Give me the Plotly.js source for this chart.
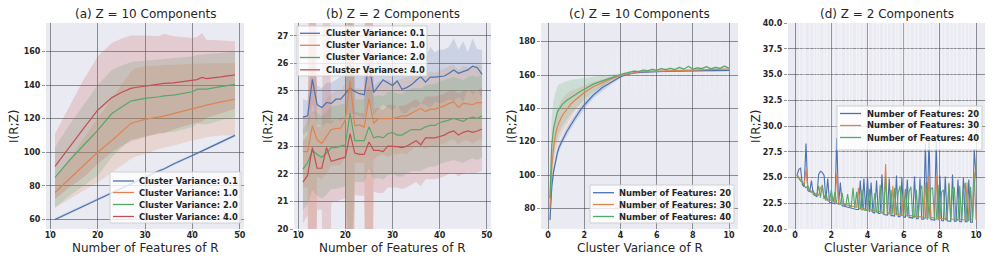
<!DOCTYPE html>
<html>
<head>
<meta charset="utf-8">
<script src="https://cdn.plot.ly/plotly-3.0.1.min.js"></script>
<style>html,body{margin:0;padding:0;background:#fff;}#chart{width:997px;height:266px;}</style>
</head>
<body>
<div id="chart"></div>
<script>
// ---------------- DATA ----------------
// Panel (a): Z = 10 components, x = number of features of R
const aX = [11,14,17,20,23,25,27,28,30,33,34,36,40,41,42,43,46,49];
const aBlue = [60,64,68,72,76,78.5,81,82.5,85,89,90,93,98,99.5,101,102,106,110];
const aBlueUp = [60.8,64.8,68.8,72.8,76.8,79.3,81.8,83.3,85.8,89.8,90.8,93.8,98.8,100.3,101.8,102.8,106.8,110.8];
const aBlueLo = [59.2,63.2,67.2,71.2,75.2,77.7,80.2,81.7,84.2,88.2,89.2,92.2,97.2,98.7,100.2,101.2,105.2,109.2];
const aOrange = [76,84,92,100,107,112,117,118,119.5,121,121.5,123,126,126.5,127.5,128,130,131.5];
const aOrangeUp = [85,96,108,120,132,140,148,150,151,151.5,152,152,152.5,152.5,153,153,153,153];
const aOrangeLo = [67,72,77,82,88,92,96,97.5,99,102,102.5,104,107,107.5,108,109,110,110];
const aGreen = [85,95,104,113,123,127,130.5,131,132,133,133.5,134,136,137.5,137.3,137.5,139,140.4];
const aGreenUp = [103,116,128,140,149,151.5,153.5,154,154.5,155,155.5,156,157,158,158,158.5,159,160];
const aGreenLo = [67,74,80,86,97,102.5,107.5,108,109.5,111,111.5,112,115,117,116.6,116.5,119,121];
const aRed = [91.6,103,114,125,132.5,135.5,138,138.5,139.3,140.2,141,141.3,142.6,143.2,144.5,143.8,144.8,146];
const aRedUp = [111,127,143,157,165,167.5,169.5,169.5,169.5,169,170.5,169,168,168.5,171,167,166.5,166];
const aRedLo = [72,79,85,93,100,103.5,106.5,107.5,109,111.5,111.5,113.5,117,117.5,118,120.5,123,126];

// Panel (b): Z = 2 components
const bX = [11,12,13,14,15,16,17,18,19,20,21,22,23,24,25,26,27,28,29,30,31,32,33,34,35,36,37,38,39,40,41,42,43,44,45,46,47,48,49];
const bBlue = [24.05,24.1,25.42,24.5,24.4,24.58,24.55,24.7,24.7,24.9,25.1,24.98,24.9,24.86,26.0,24.95,25.18,25.4,25.3,25.2,25.36,25.06,25.12,25.22,25.38,25.52,25.32,25.5,25.5,25.52,25.54,25.64,25.76,25.64,25.7,25.76,25.9,25.84,25.6];
const bBlueUp = [24.7,24.65,26.3,25.2,25.1,25.3,25.3,25.4,25.5,25.7,26.0,25.8,25.7,25.7,27.2,25.8,26.0,26.3,26.0,26.0,26.2,25.9,26.1,26.1,26.4,26.5,26.2,26.6,26.4,26.5,26.5,26.6,26.9,26.5,26.8,26.4,26.9,26.5,26.5];
const bBlueLo = [23.4,23.55,24.5,23.8,23.7,23.85,23.8,24.0,23.9,24.1,24.2,24.15,24.1,24.0,24.8,24.1,24.35,24.5,24.4,24.3,24.5,24.2,24.2,24.4,24.4,24.55,24.5,24.4,24.6,24.55,24.6,24.7,24.6,24.8,24.6,25.1,24.85,25.1,24.7];
const bOrange = [22.8,22.8,23.74,23.23,23.1,23.35,23.6,23.64,23.65,23.95,25.37,23.74,23.77,23.69,24.73,23.83,24.0,24.0,24.0,24.0,24.04,24.1,24.1,24.2,24.3,24.37,24.25,24.34,24.34,24.4,24.46,24.55,24.6,24.4,24.55,24.53,24.5,24.58,24.58];
const bOrangeUp = [24.1,24.1,40,24.6,24.4,24.7,24.9,25.0,25.0,25.3,45,25.1,25.1,25.0,45,25.2,25.35,25.35,25.4,25.3,25.4,25.45,25.5,25.55,25.6,25.7,25.6,25.7,25.65,25.75,25.8,25.9,25.95,25.75,25.9,25.85,25.9,25.95,25.9];
const bOrangeLo = [21.5,21.5,5,21.9,21.8,22.0,22.3,22.3,22.3,22.6,5,22.4,22.4,22.4,5,22.5,22.65,22.7,22.6,22.7,22.7,22.75,22.7,22.85,23.0,23.0,22.9,23.0,23.0,23.05,23.1,23.2,23.25,23.05,23.2,23.2,23.1,23.2,23.25];
const bGreen = [22.17,22.4,22.85,22.7,22.6,22.75,22.95,22.95,23.0,23.05,24.2,23.2,23.2,23.2,23.7,23.3,23.35,23.3,23.45,23.5,23.4,23.4,23.5,23.6,23.6,23.6,23.7,23.75,23.75,23.85,23.9,23.95,24.0,23.95,23.9,24.0,24.05,24.0,24.1];
const bGreenUp = [23.6,23.9,24.3,24.2,24.1,24.25,24.45,24.45,24.5,24.55,30,24.7,24.7,24.7,25.2,24.8,24.85,24.8,24.95,25.0,24.9,24.9,25.0,25.1,25.1,25.1,25.2,25.25,25.25,25.35,25.4,25.45,25.5,25.45,25.4,25.5,25.55,25.5,25.6];
const bGreenLo = [20.7,20.9,21.4,21.2,21.1,21.25,21.45,21.45,21.5,21.55,18,21.7,21.7,21.7,22.2,21.8,21.85,21.8,21.95,22.0,21.9,21.9,22.0,22.1,22.1,22.1,22.2,22.25,22.25,22.35,22.4,22.45,22.5,22.45,22.4,22.5,22.55,22.5,22.6];
const bRed = [21.7,21.95,22.95,22.2,22.2,22.95,22.45,22.5,22.55,22.6,23.45,22.75,22.7,22.7,23.15,22.85,22.85,22.8,23.0,23.0,22.98,22.95,23.0,23.1,23.2,23.05,23.3,23.3,23.3,23.35,23.4,23.5,23.55,23.4,23.5,23.55,23.5,23.55,23.62];
const bRedUp = [23.2,23.4,45,23.7,23.7,40,23.9,24.0,24.0,24.1,45,24.25,24.2,24.2,45,24.35,24.4,24.3,24.5,24.5,24.45,24.45,24.5,24.6,24.7,24.55,24.8,24.8,24.8,24.85,24.9,25.0,25.05,24.9,25.0,25.05,25.0,25.05,25.1];
const bRedLo = [20.2,20.5,5,20.7,20.7,5,20.95,21.0,21.05,21.1,5,21.25,21.2,21.2,5,21.35,21.3,21.3,21.5,21.5,21.5,21.45,21.5,21.6,21.7,21.55,21.8,21.8,21.8,21.85,21.9,22.0,22.05,21.9,22.0,22.05,22.0,22.05,22.1];

// Panel (c): Z = 10 components, x = cluster variance of R
const cX = [0.1,0.15,0.2,0.3,0.4,0.5,0.6,0.8,1.0,1.25,1.5,1.75,2.0,2.5,3.0,3.5,4.0,4.25,4.5,4.75,5.0,5.25,5.5,5.75,6.0,6.25,6.5,6.75,7.0,7.25,7.5,7.75,8.0,8.25,8.5,8.75,9.0,9.25,9.5,9.75,10.0];
const c20 = [73,85,93,102,108,113,116.5,121.5,125.5,130,134.5,138.5,142,148,152.5,156,159,160,160.8,161.2,161.5,161.7,161.8,161.9,162,162.1,162.1,162.2,162.3,162.3,162.4,162.4,162.5,162.5,162.5,162.6,162.6,162.6,162.7,162.7,162.7];
const c20Up = [76,88,96,104.5,110.5,115.5,119,124,128,132.5,137,141,144.5,150,154.5,157.5,160,160.8,161.4,161.7,162,162.1,162.2,162.3,162.4,162.5,162.5,162.6,162.7,162.7,162.8,162.8,162.9,162.9,162.9,163,163,163,163.1,163.1,163.1];
const c20Lo = [70,82,90,99.5,105.5,110.5,114,119,123,127.5,132,136,139.5,146,150.5,154.5,158,159.2,160.2,160.7,161,161.3,161.4,161.5,161.6,161.7,161.7,161.8,161.9,161.9,162,162,162.1,162.1,162.1,162.2,162.2,162.2,162.3,162.3,162.3];
const c30 = [80,95,105,116,124,128.5,131.5,136,139,142.5,145,147.5,149.5,153,155.5,157.8,159.7,160.3,160.8,161.3,161.8,162,162.1,162.3,162.3,162.5,162.6,162.7,162.7,162.9,163,163,163,163.2,163.3,163.2,163.3,163.4,163.4,163.5,163.5];
const c30Up = [88,108,115,126,134,139,142,146,148.5,150.5,151.5,152.7,154,156,157.5,159,160.5,160.9,161.3,161.8,162.2,162.4,162.5,162.7,162.7,162.9,163,163.1,163.1,163.3,163.4,163.4,163.4,163.6,163.7,163.6,163.7,163.8,163.8,163.9,163.9];
const c30Lo = [72,82,95,106,114,118,121,126,129.5,134,138.5,142,145,150,153.5,156.6,158.9,159.7,160.3,160.8,161.4,161.6,161.7,161.9,161.9,162.1,162.2,162.3,162.3,162.5,162.6,162.6,162.6,162.8,162.9,162.8,162.9,163,163,163.1,163.1];
const c40 = [86,105,118,128,134,137.5,139.5,142.5,144.5,146.5,148.5,150,151.5,154.5,156.5,158.5,160.3,161,161.5,162.3,162,163,162.5,163.4,162.8,163.8,163.2,164,163.3,164.5,163.5,165.2,163.6,164.3,163.8,165,163.7,164.6,164,165.3,164];
const c40Up = [100,125,135,145,150,153,154.5,155.5,156.3,157,157.5,157.9,158.2,159,159.6,160.2,161,161.6,162,162.8,162.6,163.6,163.1,164,163.4,164.4,163.8,164.6,163.9,165.1,164.1,165.8,164.2,164.9,164.4,165.6,164.3,165.2,164.6,165.9,164.6];
const c40Lo = [75,88,100,112,118,122,125,129.5,133,136.5,139.5,142.5,145,150,153.5,156.8,159.6,160.4,161,161.8,161.4,162.4,161.9,162.8,162.2,163.2,162.6,163.4,162.7,163.9,162.9,164.6,163,163.7,163.2,164.4,163.1,164,163.4,164.7,163.4];
// faint high-variance streaks in (c)
const cStreakX = [3.2,3.5,3.8,4.1,4.3,4.6,4.8,5.1,5.3,5.6,5.9,6.1,6.4,6.6,6.9,7.1,7.4,7.6,7.9,8.2,8.4,8.7,8.9,9.2,9.5,9.7,9.9];
const cStreakHi = [168,172,175,170,177,173,178,171,176,174,178,172,177,175,170,178,176,173,178,177,171,176,178,174,177,175,178];
const cStreakLo = [154,152,150,156,151,153,149,155,150,152,148,154,151,150,155,149,152,150,148,153,151,149,150,152,148,151,150];

// Panel (d): Z = 2 components, x = cluster variance of R
const dX = [0.1,0.2,0.3,0.4,0.5,0.6,0.7,0.8,0.9,1.0,1.1,1.2,1.3,1.4,1.5,1.6,1.7,1.8,1.9,2.0,2.1,2.2,2.3,2.4,2.5,2.6,2.7,2.8,2.9,3.0,3.1,3.2,3.3,3.4,3.5,3.6,3.7,3.8,3.9,4.0,4.1,4.2,4.3,4.4,4.5,4.6,4.7,4.8,4.9,5.0,5.1,5.2,5.3,5.4,5.5,5.6,5.7,5.8,5.9,6.0,6.1,6.2,6.3,6.4,6.5,6.6,6.7,6.8,6.9,7.0,7.1,7.2,7.3,7.4,7.5,7.6,7.7,7.8,7.9,8.0,8.1,8.2,8.3,8.4,8.5,8.6,8.7,8.8,8.9,9.0,9.1,9.2,9.3,9.4,9.5,9.6,9.7,9.8,9.9,10.0];
const d20 = [25.15,25.8,25.9,24.3,24.1,28.3,23.75,23.6,24.7,23.35,
 23.25,23.15,25.3,25.6,25.5,25.2,22.75,24.9,22.6,22.55,
 22.5,22.45,28.8,22.35,24.5,22.25,22.2,22.15,22.1,22.1,
 22.05,22.0,21.95,21.9,21.9,24.7,21.8,24.9,21.75,25.0,
 21.65,24.5,21.6,21.55,24.7,21.5,21.5,25.3,21.4,21.4,
 21.35,24.9,21.3,21.3,21.25,25.2,21.2,21.2,25.0,21.15,
 21.15,24.8,21.1,21.1,21.05,25.1,21.0,21.0,24.9,20.95,
 20.95,28.3,20.9,29.0,20.9,20.9,20.85,28.5,20.85,25.2,
 20.8,20.8,25.1,20.8,20.8,20.75,25.3,20.75,20.75,24.8,
 20.7,20.7,25.0,20.7,20.7,24.8,20.65,20.65,27.8,25.0];
const d30 = [25.3,25.0,24.75,24.5,24.3,25.8,23.95,23.8,23.65,23.55,
 23.45,23.35,23.25,24.0,24.2,23.0,22.95,22.85,22.8,22.75,
 22.7,22.65,25.4,22.55,22.5,22.45,22.4,22.35,22.3,22.3,
 22.25,22.2,22.15,22.1,24.0,22.05,22.0,21.95,21.95,21.9,
 21.85,21.85,21.8,21.75,21.75,21.7,21.7,21.65,21.6,26.3,
 21.55,21.55,21.5,24.2,21.45,21.45,21.4,21.4,21.4,23.8,
 21.35,21.3,21.3,21.3,21.25,21.25,21.2,21.2,21.2,21.15,
 21.15,24.5,21.1,25.3,21.1,21.1,21.05,25.2,21.05,21.05,
 21.0,21.0,21.0,21.0,24.5,20.95,20.95,20.95,20.95,20.95,
 20.9,20.9,20.9,20.9,24.5,20.9,20.9,20.9,25.5,20.9];
const d40 = [25.2,24.9,24.65,24.6,24.2,24.0,24.2,23.7,23.55,23.7,
 23.35,23.25,24.2,23.05,24.3,22.9,23.5,22.75,22.7,23.8,
 22.6,23.6,22.5,22.45,22.4,23.5,22.3,22.25,23.4,22.2,
 22.15,24.0,22.05,23.6,22.0,21.95,23.8,21.85,21.85,21.8,
 23.9,21.75,21.7,23.5,21.65,21.6,24.3,21.55,21.5,25.1,
 21.45,21.45,23.8,21.4,24.0,21.35,23.5,24.2,21.3,21.25,
 23.9,21.2,23.6,24.1,21.15,21.15,23.8,21.1,23.7,24.2,
 21.05,21.05,24.5,21.0,23.9,24.0,20.95,20.95,24.3,20.95,
 23.6,23.8,20.9,20.9,24.4,20.85,23.9,24.0,20.85,20.85,
 24.2,20.8,23.7,24.5,20.8,20.8,24.1,20.8,24.0,26.3];
// high-variance streaks in (d)
const dStreakX = [0.25,0.45,0.55,0.8,1.05,1.2,1.35,1.6,1.75,1.95,2.15,2.4,2.55,2.8,3.0,3.15,3.4,3.55,3.8,4.05,4.3,4.5,4.65,4.9,5.1,5.3,5.55,5.7,5.95,6.15,6.35,6.6,6.8,7.05,7.25,7.45,7.65,7.9,8.1,8.3,8.55,8.75,8.95,9.2,9.4,9.6,9.8,9.95];
const dStreakHi = [45,50,42,48,55,44,47,52,43,49,46,51,44,53,47,42,50,45,48,54,43,46,52,44,49,47,51,42,48,45,53,44,50,46,43,52,47,49,45,51,44,48,42,53,46,50,45,47];
const dStreakLo = [15,12,18,14,10,16,13,11,17,15,12,14,16,10,13,18,11,15,14,12,17,13,10,16,14,12,15,18,11,13,16,14,10,12,17,15,13,11,16,14,12,18,15,10,13,17,14,12];

// Labels
const varNames = ['Cluster Variance: 0.1','Cluster Variance: 1.0','Cluster Variance: 2.0','Cluster Variance: 4.0'];
const featNames = ['Number of Features: 20','Number of Features: 30','Number of Features: 40'];
const titles = ['(a) Z = 10 Components','(b) Z = 2 Components','(c) Z = 10 Components','(d) Z = 2 Components'];
const xTitles = ['Number of Features of R','Number of Features of R','Cluster Variance of R','Cluster Variance of R'];
const yTitle = 'I(R;Z)';
const aYTicks = [60,80,100,120,140,160];
const bYTicks = [20,21,22,23,24,25,26,27];
const cYTicks = [80,100,120,140,160,180];
const dYTicks = [20,22.5,25,27.5,30,32.5,35,37.5,40];
const nTicks = [10,20,30,40,50];
const vTicks = [0,2,4,6,8,10];

// ---------------- STYLE / LAYOUT ----------------
const W = 997, H = 266;
const COLORS = ['#4C72B0','#DD8452','#55A868','#C44E52'];
const FILLS = ['rgba(76,114,176,0.2)','rgba(221,132,82,0.2)','rgba(85,168,104,0.2)','rgba(196,78,82,0.2)'];
const TXT = '#262626';
const px = x => x / W;
const py = y => 1 - y / H;
const yDom = [py(229), py(23)];
const xDoms = [[46,244],[294,491],[541,738],[788,985]];
const yTitleX = [14, 268, 512, 756];

function ax(k, p) { return p + (k > 1 ? k : ''); }
function band(xs, up, lo, fill, k) {
  return {x: xs.concat(xs.slice().reverse()), y: up.concat(lo.slice().reverse()),
    type:'scatter', mode:'lines', fill:'toself', fillcolor: fill, line:{width:0},
    hoverinfo:'skip', showlegend:false, xaxis:ax(k,'x'), yaxis:ax(k,'y')};
}
function line(xs, ys, color, k, w) {
  return {x: xs, y: ys, type:'scatter', mode:'lines', line:{color: color, width: w||1.2},
    showlegend:false, xaxis:ax(k,'x'), yaxis:ax(k,'y')};
}
function streaks(xs, lo, hi, color, w, k) {
  const X = [], Y = [];
  xs.forEach((v,i) => { X.push(v, v, null); Y.push(lo[i], hi[i], null); });
  return {x: X, y: Y, type:'scatter', mode:'lines', line:{color: color, width: w},
    hoverinfo:'skip', showlegend:false, connectgaps:false, xaxis:ax(k,'x'), yaxis:ax(k,'y')};
}

const traces = [];
// (a)
[[aBlueUp,aBlueLo],[aOrangeUp,aOrangeLo],[aGreenUp,aGreenLo],[aRedUp,aRedLo]].forEach((b,i)=>traces.push(band(aX,b[0],b[1],FILLS[i],1)));
[aBlue,aOrange,aGreen,aRed].forEach((s,i)=>traces.push(line(aX,s,COLORS[i],1)));
// (b)
[[bBlueUp,bBlueLo],[bOrangeUp,bOrangeLo],[bGreenUp,bGreenLo],[bRedUp,bRedLo]].forEach((b,i)=>traces.push(band(bX,b[0],b[1],FILLS[i],2)));
[bBlue,bOrange,bGreen,bRed].forEach((s,i)=>traces.push(line(bX,s,COLORS[i],2)));
// (c)
traces.push(streaks(cStreakX,cStreakLo,cStreakHi,'rgba(255,255,255,0.22)',1,3));
[[c20Up,c20Lo],[c30Up,c30Lo],[c40Up,c40Lo]].forEach((b,i)=>traces.push(band(cX,b[0],b[1],FILLS[i],3)));
[c20,c30,c40].forEach((s,i)=>traces.push(line(cX,s,COLORS[i],3)));
// (d)
traces.push(streaks(dStreakX,dStreakLo,dStreakHi,'rgba(255,255,255,0.4)',1.5,4));
[d20,d30,d40].forEach((s,i)=>traces.push(line(dX,s,COLORS[i],4,1.1)));

const tickFont = {family:'DejaVu Sans', size:8, weight:'bold', color:TXT};
const titleFont = {family:'DejaVu Sans', size:12, color:TXT};
const GRID = 'rgba(60,60,70,0.55)';
function xax(k, range, tv) {
  return {domain:[px(xDoms[k][0]), px(xDoms[k][1])], range: range, tickvals: tv, anchor:'y'+(k?k+1:''),
    showgrid:true, gridcolor:GRID, gridwidth:1, zeroline:false, showline:false,
    ticks:'outside', ticklen:2, tickcolor:GRID, tickfont: tickFont, ticklabelstandoff:-4};
}
function yax(k, range, tv, fmt) {
  return {domain: yDom, range: range, tickvals: tv, anchor:'x'+(k?k+1:''), tickformat: fmt||'',
    showgrid:true, gridcolor:GRID, gridwidth:1, zeroline:false, showline:false,
    ticks:'outside', ticklen:3, tickcolor:GRID, tickfont: tickFont};
}

const shapes = [], annotations = [];
titles.forEach((t,k)=>{
  const cx = px((xDoms[k][0]+xDoms[k][1])/2);
  annotations.push({xref:'paper', yref:'paper', x: cx, y: py(14),
    xanchor:'center', yanchor:'middle', showarrow:false, text:t, font:titleFont});
  annotations.push({xref:'paper', yref:'paper', x: cx, y: py(248),
    xanchor:'center', yanchor:'middle', showarrow:false, text:xTitles[k], font:titleFont});
  annotations.push({xref:'paper', yref:'paper', x: px(yTitleX[k]), y: py(126), textangle:-90,
    xanchor:'center', yanchor:'middle', showarrow:false, text:yTitle, font:titleFont});
});
// legends: box [x0,y0,x1,y1], line x-range, text x, row y's
function legend(box, lx0, lx1, tx, rows, names, colors) {
  shapes.push({type:'rect', xref:'paper', yref:'paper', x0:px(box[0]), x1:px(box[2]), y0:py(box[3]), y1:py(box[1]),
    fillcolor:'rgba(255,255,255,0.8)', line:{color:'rgba(204,204,204,0.9)', width:1}, layer:'above'});
  rows.forEach((ry,i)=>{
    shapes.push({type:'line', xref:'paper', yref:'paper', x0:px(lx0), x1:px(lx1), y0:py(ry), y1:py(ry),
      line:{color:colors[i], width:1.3}, layer:'above'});
    annotations.push({xref:'paper', yref:'paper', x:px(tx), y:py(ry), xanchor:'left', yanchor:'middle',
      showarrow:false, text:names[i], font:{family:'DejaVu Sans', size:8.4, weight:'bold', color:TXT}});
  });
}
legend([110,172,241,223], 113, 134, 137, [181,192.5,204.5,216.5], varNames, COLORS);
legend([297,26,427,76], 300, 320, 324, [33.3,45.3,57.5,69.8], varNames, COLORS);
legend([590,185,734,223], 593, 614, 617, [192.7,204.5,216.5], featNames, COLORS);
legend([837,106,982,150], 840, 861, 865, [113.5,125.5,137.5], featNames, COLORS);

const layout = {
  width: W, height: H, margin:{l:0,r:0,t:0,b:0}, paper_bgcolor:'#ffffff', plot_bgcolor:'#EAEAF2',
  showlegend:false, font:{family:'DejaVu Sans', color:TXT},
  xaxis: xax(0,[9.1,50.9],nTicks), yaxis: yax(0,[54.3,176.9],aYTicks),
  xaxis2: xax(1,[9.1,50.9],nTicks), yaxis2: yax(1,[20,27.46],bYTicks),
  xaxis3: xax(2,[-0.395,10.495],vTicks), yaxis3: yax(2,[67.6,191.2],cYTicks),
  xaxis4: xax(3,[-0.395,10.495],vTicks), yaxis4: yax(3,[20,40],dYTicks,'.1f'),
  shapes: shapes, annotations: annotations
};
Plotly.newPlot('chart', traces, layout, {displayModeBar:false, staticPlot:true});
</script>
</body>
</html>
